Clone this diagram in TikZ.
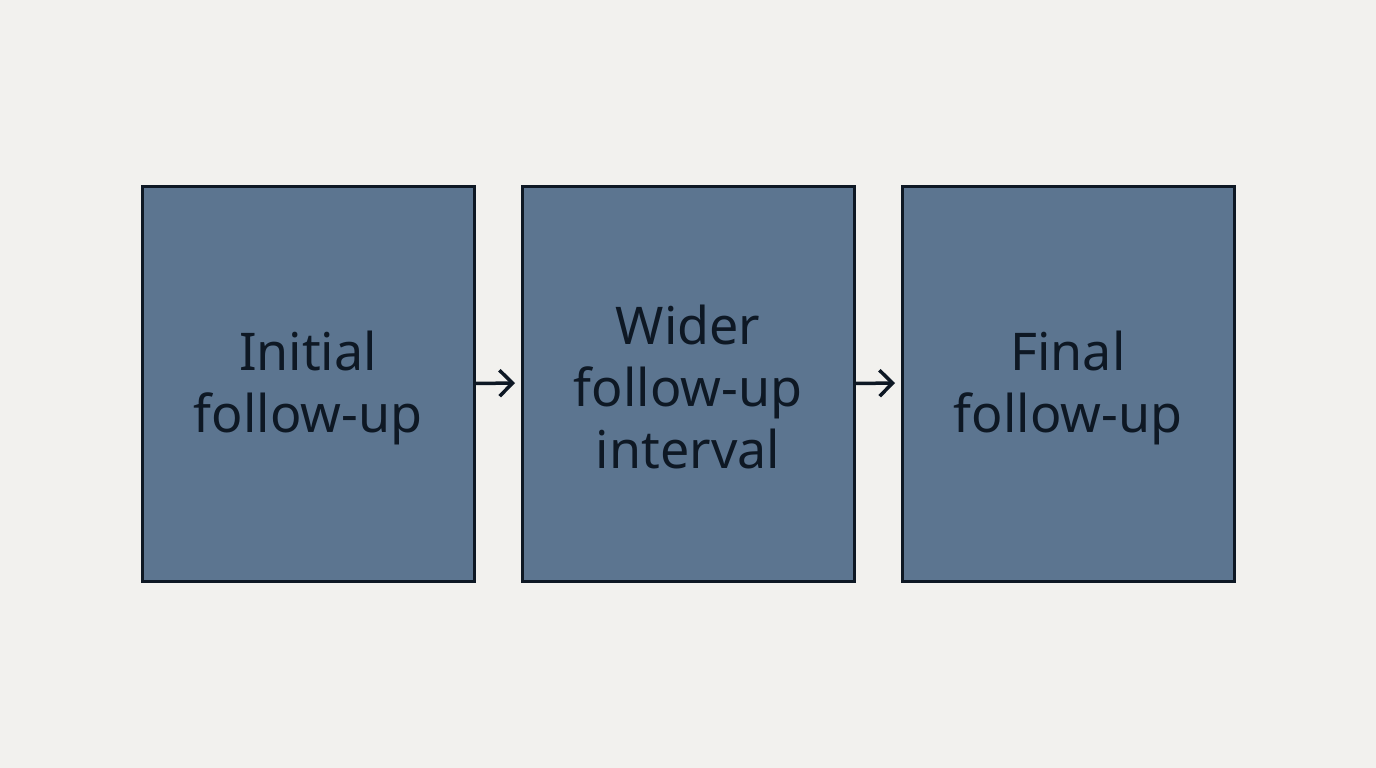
\documentclass[tikz,border=0pt]{standalone}
\usepackage{fontspec}
\setmainfont{Noto Sans}
\usetikzlibrary{arrows.meta}
\definecolor{bg}{HTML}{F2F1EE}
\definecolor{boxfill}{HTML}{5C7590}
\definecolor{ink}{HTML}{0E1824}
\begin{document}
\begin{tikzpicture}[x=1pt,y=-1pt,
  stagebox/.style={draw=ink, line width=3pt, fill=boxfill, minimum width=332pt, minimum height=395pt, inner sep=0pt},
  stagetext/.style={align=center, inner sep=0pt, font=\fontsize{52}{62}\selectfont, text=ink},
  flow/.style={draw=ink, line width=3.5pt, -{Straight Barb[length=13pt,width=26pt,line width=3.5pt]}}]
\fill[bg] (0,0) rectangle (1376,768);
\useasboundingbox (0,0) rectangle (1376,768);
\node[stagebox] (a) at (308,383.5) {};
\node[stagebox] (b) at (688,383.5) {};
\node[stagebox] (c) at (1068,383.5) {};
\node[stagetext] (at) at ([yshift=-4pt]a.center) {Initial\\follow-up};
\node[stagetext] (bt) at ([yshift=-3pt]b.center) {Wider\\follow-up\\interval};
\node[stagetext] (ct) at ([yshift=-4pt]c.center) {Final\\follow-up};
\coordinate (a1) at (515,383);
\coordinate (b1) at (895,383);
\draw[flow] (a.east) -- (a1);
\draw[flow] (b.east) -- (b1);
\end{tikzpicture}
\end{document}
